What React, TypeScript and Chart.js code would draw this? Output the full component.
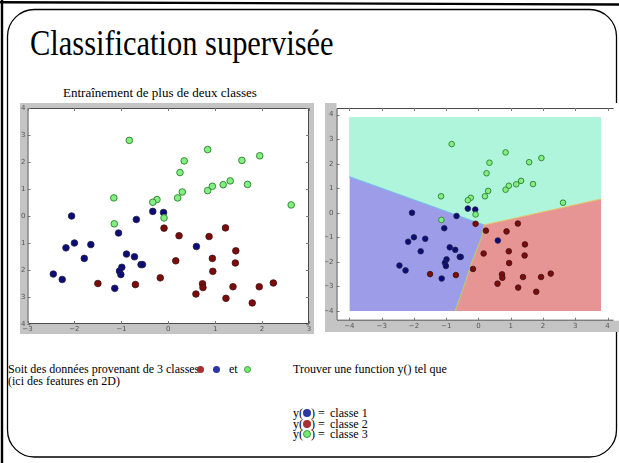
import React, { useEffect, useRef } from 'react';
import { Chart, registerables } from 'chart.js';
Chart.register(...registerables);

// ---------- data ----------
const class1X = [-2.06, -0.33, -0.10, -0.68, -1.06, -2.00, -2.18, -1.65, -1.79, -0.89, -0.72, 0.60, -0.58, -0.55, -0.99, -1.04, -1.01, -2.45, -2.26, -1.14];
const class1Y = [0.00, 0.17, 0.13, -0.13, -0.63, -1.00, -1.18, -1.06, -1.57, -1.41, -1.51, -1.13, -1.80, -1.80, -1.90, -2.04, -2.17, -2.15, -2.35, -2.68];

const class2X = [-0.09, 1.22, 0.23, 0.87, 1.44, 0.94, 0.16, 1.43, 0.95, -0.17, -1.50, -0.70, 0.73, 0.74, 0.59, 1.38, 1.94, 2.24, 1.23, 1.79];
const class2Y = [-0.45, -0.44, -0.73, -0.76, -1.29, -1.57, -1.66, -1.74, -2.05, -2.29, -2.50, -2.54, -2.51, -2.65, -2.89, -2.62, -2.62, -2.48, -3.05, -3.22];

const class3X = [-0.83, 0.84, 0.34, 0.25, 1.57, 1.95, 0.94, 0.84, 1.17, 1.32, 1.69, 0.30, 0.20, -0.24, -0.33, -1.16, -1.15, -0.09, 2.62];
const class3Y = [2.80, 2.46, 2.04, 1.61, 2.06, 2.23, 1.10, 0.94, 1.16, 1.30, 1.17, 0.89, 0.67, 0.61, 0.51, 0.67, -0.29, -0.07, 0.41];

const leftXTicks = [-3, -2, -1, 0, 1, 2, 3];
const leftXTickLabels = ['\u22123', '\u22122', '\u22121', '0', '1', '2', '3'];
const leftYTicks = [-4, -3, -2, -1, 0, 1, 2, 3, 4];
const leftYTickLabels = ['4', '3', '2', '1', '0', '1', '2', '3', '4'];

const rightXTicks = [-4, -3, -2, -1, 0, 1, 2, 3, 4];
const rightXTickLabels = ['\u22124', '\u22123', '\u22122', '\u22121', '0', '1', '2', '3', '4'];
const rightYTicks = [-4, -3, -2, -1, 0, 1, 2, 3, 4];
const rightYTickLabels = ['\u22124', '\u22123', '\u22122', '\u22121', '0', '1', '2', '3', '4'];

// decision regions (right chart)
const regionExtentX = [-4, 3.8];
const regionExtentY = [-4, 3.9];
const tealBlueBoundaryX = [-4, 0.17];
const tealBlueBoundaryY = [1.47, -0.5];
const tealRedBoundaryX = [0.17, 3.8];
const tealRedBoundaryY = [-0.5, 0.56];
const blueRedBoundaryX = [-0.72, -0.45, -0.2, 0.1, 0.17];
const blueRedBoundaryY = [-4, -3, -2, -1, -0.5];

// ---------- styles ----------
const GRAY = '#c4c4c4';
const C1 = { fill: '#0c0c78', edge: '#23234a' };
const C2 = { fill: '#7c0c0c', edge: '#3e1414' };
const C3 = { fill: '#80f080', edge: '#3a8a3a' };
const TEAL = '#aef5db';
const BLUE_BG = '#9c9ce8';
const RED_BG = '#e69494';
const TICK_COLOR = '#555';
const TICK_FONT = '7px "DejaVu Sans"';

const pts = (xs: number[], ys: number[]) => xs.map((x, i) => ({ x, y: ys[i] }));

function framePlugin(mode: 'left' | 'right', xLabels: string[], yLabels: string[], yLabelRight: number, xLabelMid: number) {
  return {
    id: 'frame_' + mode,
    beforeDraw(chart: any) {
      const { ctx, width, height, chartArea: a } = chart;
      ctx.save();
      ctx.fillStyle = GRAY;
      ctx.fillRect(0, 0, width, height);
      ctx.fillStyle = '#ffffff';
      if (mode === 'left') ctx.fillRect(a.left, a.top, a.right - a.left, a.bottom - a.top);
      else ctx.fillRect(a.left, 0, width - a.left, a.bottom);
      ctx.restore();
    },
    afterDraw(chart: any) {
      const { ctx, chartArea: a, scales } = chart;
      ctx.save();
      ctx.strokeStyle = '#4a4a4a';
      ctx.lineWidth = 1;
      ctx.beginPath();
      ctx.moveTo(a.left + 0.5, a.bottom - 0.5);
      ctx.lineTo(a.left + 0.5, a.top + 0.5);
      ctx.lineTo(a.right - 0.5, a.top + 0.5);
      if (mode === 'left') ctx.lineTo(a.right - 0.5, a.bottom - 0.5);
      else ctx.moveTo(a.right - 0.5, a.bottom - 0.5);
      ctx.lineTo(a.left + 0.5, a.bottom - 0.5);
      ctx.stroke();
      ctx.strokeStyle = '#777';
      ctx.beginPath();
      for (const t of scales.x.ticks) {
        const px = Math.round(scales.x.getPixelForValue(t.value)) + 0.5;
        ctx.moveTo(px, a.bottom); ctx.lineTo(px, a.bottom - 3);
        ctx.moveTo(px, a.top); ctx.lineTo(px, a.top + 3);
      }
      for (const t of scales.y.ticks) {
        const py = Math.round(scales.y.getPixelForValue(t.value)) + 0.5;
        ctx.moveTo(a.left, py); ctx.lineTo(a.left + 3, py);
        if (mode === 'left') { ctx.moveTo(a.right, py); ctx.lineTo(a.right - 3, py); }
      }
      ctx.stroke();
      // tick labels
      ctx.fillStyle = TICK_COLOR;
      ctx.font = TICK_FONT;
      ctx.textBaseline = 'middle';
      ctx.textAlign = 'center';
      scales.x.ticks.forEach((t: any, i: number) => {
        ctx.fillText(xLabels[i], scales.x.getPixelForValue(t.value), xLabelMid);
      });
      ctx.textAlign = 'right';
      scales.y.ticks.forEach((t: any, i: number) => {
        ctx.fillText(yLabels[i], yLabelRight, scales.y.getPixelForValue(t.value));
      });
      ctx.restore();
    },
  };
}

function axis(min: number, max: number, ticks: number[], isX: boolean, size: number) {
  return {
    type: 'linear',
    min,
    max,
    afterBuildTicks: (s: any) => { s.ticks = ticks.map((v) => ({ value: v })); },
    afterFit: (s: any) => { if (isX) s.height = size; else s.width = size; },
    grid: { display: false },
    border: { display: false },
    ticks: { display: false },
  };
}

function scatterSets(radius: number) {
  return [
    { label: 'classe 3', data: pts(class3X, class3Y), backgroundColor: C3.fill, borderColor: C3.edge, borderWidth: 1, pointRadius: radius, order: 0 },
    { label: 'classe 2', data: pts(class2X, class2Y), backgroundColor: C2.fill, borderColor: C2.edge, borderWidth: 0.8, pointRadius: radius, order: 0 },
    { label: 'classe 1', data: pts(class1X, class1Y), backgroundColor: C1.fill, borderColor: C1.edge, borderWidth: 0.8, pointRadius: radius, order: 0 },
  ];
}

function boundary(label: string, xs: number[], ys: number[], color: string) {
  return {
    type: 'line', label, data: pts(xs, ys), showLine: true, pointRadius: 0,
    borderWidth: 1.2, borderColor: color, fill: false, order: 1,
  };
}

function LeftChart() {
  const ref = useRef<HTMLCanvasElement>(null);
  useEffect(() => {
    const chart = new Chart(ref.current!, {
      type: 'scatter',
      data: { datasets: scatterSets(3.3) as any },
      options: {
        responsive: false,
        animation: false,
        events: [],
        layout: { padding: { top: 3, right: 3.5, left: 0, bottom: 0 } },
        plugins: { legend: { display: false }, tooltip: { enabled: false } },
        scales: {
          x: axis(-3, 3, leftXTicks, true, 10),
          y: axis(-4, 4, leftYTicks, false, 7.5),
        } as any,
      },
      plugins: [framePlugin('left', leftXTickLabels, leftYTickLabels, 5.5, 226)],
    });
    return () => chart.destroy();
  }, []);
  return <canvas ref={ref} width={294} height={231} style={{ position: 'absolute', left: 20, top: 103, width: 294, height: 231 }} />;
}

function RightChart() {
  const ref = useRef<HTMLCanvasElement>(null);
  useEffect(() => {
    const blueTop = regionExtentX.map((x) => ({ x, y: regionExtentY[1] }));
    const tealLower = pts([...tealBlueBoundaryX, ...tealRedBoundaryX.slice(1)], [...tealBlueBoundaryY, ...tealRedBoundaryY.slice(1)]);
    const redUpper = pts([...blueRedBoundaryX, ...tealRedBoundaryX.slice(1)], [...blueRedBoundaryY, ...tealRedBoundaryY.slice(1)]);
    const chart = new Chart(ref.current!, {
      type: 'scatter',
      data: {
        datasets: [
          ...(scatterSets(2.8) as any),
          boundary('frontière 1/3', tealBlueBoundaryX, tealBlueBoundaryY, '#7ab6ee'),
          boundary('frontière 2/3', tealRedBoundaryX, tealRedBoundaryY, '#e9c46a'),
          boundary('frontière 1/2', blueRedBoundaryX, blueRedBoundaryY, '#b8c878'),
          {
            type: 'line', label: 'région 3', data: tealLower,
            showLine: true, pointRadius: 0, borderWidth: 0,
            backgroundColor: TEAL, fill: { value: regionExtentY[1] }, order: 2,
          },
          {
            type: 'line', label: 'région 2', data: redUpper,
            showLine: true, pointRadius: 0, borderWidth: 0,
            backgroundColor: RED_BG, fill: { value: regionExtentY[0] }, order: 2,
          },
          {
            type: 'line', label: 'région 1', data: blueTop,
            showLine: true, pointRadius: 0, borderWidth: 0,
            backgroundColor: BLUE_BG, fill: { value: regionExtentY[0] }, order: 3,
          },
        ],
      },
      options: {
        responsive: false,
        animation: false,
        events: [],
        layout: { padding: { top: 2, right: 0, left: 0, bottom: 0 } },
        plugins: { legend: { display: false }, tooltip: { enabled: false } },
        scales: {
          x: axis(-4.4, 4.2, rightXTicks, true, 11.3),
          y: axis(-4.4, 4.27, rightYTicks, false, 11.5),
        } as any,
      },
      plugins: [framePlugin('right', rightXTickLabels, rightYTickLabels, 8.5, 223.5)],
    });
    return () => chart.destroy();
  }, []);
  return <canvas ref={ref} width={294} height={229} style={{ position: 'absolute', left: 325, top: 103, width: 294, height: 229 }} />;
}

function Dot({ x, y, d, fill, ring }: { x: number; y: number; d: number; fill: string; ring?: string }) {
  return (
    <span
      style={{
        position: 'absolute', left: x - d / 2, top: y - d / 2, width: d, height: d, borderRadius: '50%',
        background: fill, boxSizing: 'border-box', border: ring ? `1.5px solid ${ring}` : 'none',
      }}
    />
  );
}

function Txt({ x, top, size, children }: { x: number; top: number; size: number; children: any }) {
  return (
    <div style={{ position: 'absolute', left: x, top, fontSize: size, lineHeight: `${size}px`, whiteSpace: 'pre' }}>{children}</div>
  );
}

const DOT_RED = '#a83030';
const DOT_BLUE = '#2c35a4';
const DOT_GREEN = '#74ec74';
const DOT_GREEN_RING = '#3f9a3f';

export default function App() {
  return (
    <div
      style={{
        position: 'fixed', left: 0, top: 0, width: 619, height: 463, overflow: 'hidden', background: '#fff',
        fontFamily: '"Liberation Serif", "Times New Roman", serif', color: '#000',
      }}
    >
      <svg width={619} height={463} style={{ position: 'absolute', left: 0, top: 0 }}>
        <line x1={0} y1={2.2} x2={619} y2={4.5} stroke="#000" strokeWidth={2.4} />
        <line x1={2} y1={0} x2={2} y2={463} stroke="#000" strokeWidth={2.4} />
        <rect x={7.5} y={9.5} width={609} height={447.5} rx={27} ry={27} fill="none" stroke="#000" strokeWidth={1.3} />
      </svg>

      <div
        style={{
          position: 'absolute', left: 30, top: 26, fontSize: 35, lineHeight: '35px', whiteSpace: 'pre',
          transform: 'scaleX(0.87)', transformOrigin: 'left top',
        }}
      >
        Classification supervisée
      </div>

      <Txt x={63} top={86} size={13}>Entraînement de plus de deux classes</Txt>

      <LeftChart />
      <RightChart />

      <Txt x={8} top={363} size={12}>Soit des données provenant de 3 classes</Txt>
      <Dot x={200.5} y={369} d={7} fill={DOT_RED} />
      <Dot x={216} y={369} d={7} fill={DOT_BLUE} />
      <Txt x={229} top={363} size={12}>et</Txt>
      <Dot x={247} y={369} d={7} fill={DOT_GREEN} ring={DOT_GREEN_RING} />
      <Txt x={8} top={375} size={12}>(ici des features en 2D)</Txt>

      <Txt x={293} top={363} size={12}>Trouver une function y() tel que</Txt>

      <Txt x={293} top={407} size={12}>y(</Txt>
      <Dot x={307} y={413} d={8} fill={DOT_BLUE} />
      <Txt x={311} top={407} size={12}>) =</Txt>
      <Txt x={330} top={407} size={12}>classe 1</Txt>

      <Txt x={293} top={417.6} size={12}>y(</Txt>
      <Dot x={307} y={423.6} d={8} fill={DOT_RED} />
      <Txt x={311} top={417.6} size={12}>) =</Txt>
      <Txt x={330} top={417.6} size={12}>classe 2</Txt>

      <Txt x={293} top={428} size={12}>y(</Txt>
      <Dot x={307} y={434} d={8} fill={DOT_GREEN} ring={DOT_GREEN_RING} />
      <Txt x={311} top={428} size={12}>) =</Txt>
      <Txt x={330} top={428} size={12}>classe 3</Txt>
    </div>
  );
}
